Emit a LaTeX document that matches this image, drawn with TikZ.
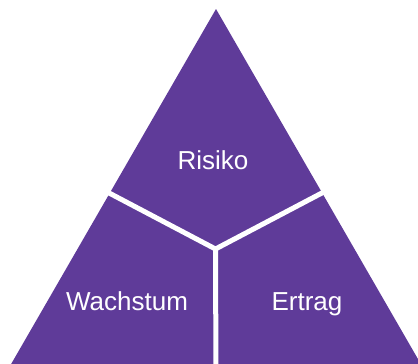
\documentclass[tikz,border=0pt]{standalone}
\usepackage{fontspec}
\setmainfont{Liberation Sans}
\definecolor{tripurple}{HTML}{5F3B99}
\begin{document}
\begin{tikzpicture}[x=1pt,y=-1pt,
  gap/.style={draw=white,line width=5pt},
  lbl/.style={text=white,font=\fontsize{26}{30}\selectfont,anchor=base,inner sep=0pt}]
\useasboundingbox (0,0) rectangle (418,364);
\clip (0,0) rectangle (418,364);
\coordinate (apex) at (216,9);
\coordinate (bl) at (-5,392);
\coordinate (br) at (437,392);
\fill[tripurple] (apex) -- (bl) -- (br) -- cycle;
\coordinate (mid) at (215.5,249);
\coordinate (lend) at (100,188.2);
\coordinate (rend) at (331,188.2);
\coordinate (bend) at (216,380);
\draw[gap] (lend) -- (mid) -- (rend);
\draw[gap] (mid) -- (bend);
\node[lbl] (risiko) at (213,169) {Risiko};
\node[lbl] (wachstum) at (127,310) {Wachstum};
\node[lbl] (ertrag) at (307,310) {Ertrag};
\end{tikzpicture}
\end{document}
